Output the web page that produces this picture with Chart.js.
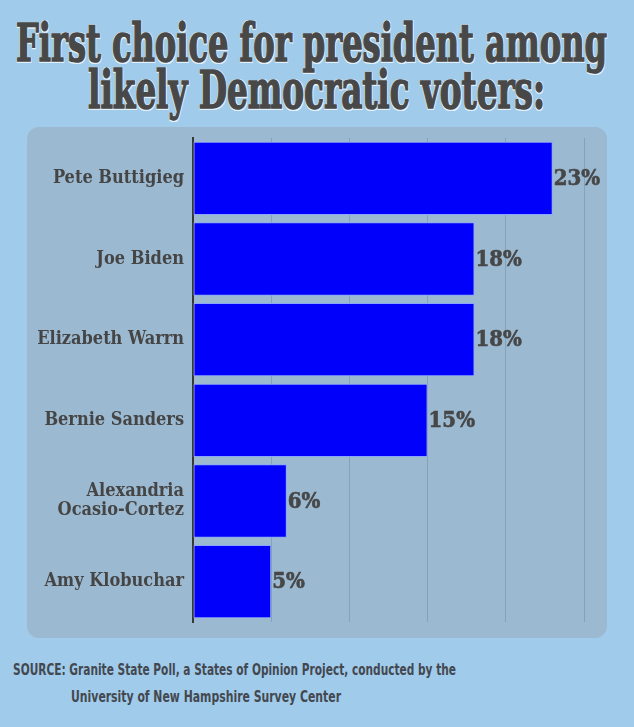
<!DOCTYPE html>
<html>
<head>
<meta charset="utf-8">
<script src="https://cdn.jsdelivr.net/npm/chart.js@4.4.1/dist/chart.umd.min.js"></script>
<style>
    body { margin: 0; width: 634px; height: 727px; background: #a1cbea; position: relative; overflow: hidden; }
    .title { position: absolute; left: 0; white-space: nowrap; font-family: "DejaVu Serif", serif; font-stretch: condensed; font-weight: bold; color: #484848; font-size: 52px; line-height: 1; transform-origin: 0 0;
        -webkit-text-stroke: 1.5px #484848;
        text-shadow: 1.5px 1.5px 0 #e4f1fb, -1px -1px 0 #e4f1fb, 1.5px -1px 0 #e4f1fb, -1px 1.5px 0 #e4f1fb; }
    .panel { position: absolute; left: 27px; top: 127px; width: 580px; height: 511px; background: #9bb9d1; border-radius: 12px; }
    .source { position: absolute; white-space: nowrap; font-family: "DejaVu Sans", sans-serif; font-stretch: condensed; font-weight: bold; color: #434850; font-size: 15px; line-height: 1; transform-origin: 0 0; }
</style>
</head>
<body>
<div class="title" id="t1" data-x="16" data-w="591">First choice for president among</div>
<div class="title" id="t2" data-x="88" data-w="457">likely Democratic voters:</div>
<div class="panel"><canvas id="pollChart" width="580" height="511"></canvas></div>
<div class="source" id="s1" data-x="13" data-w="443">SOURCE: Granite State Poll, a States of Opinion Project, conducted by the</div>
<div class="source" id="s2" data-x="71" data-w="270">University of New Hampshire Survey Center</div>
<script>
    const candidates = ['Pete Buttigieg', 'Joe Biden', 'Elizabeth Warrn', 'Bernie Sanders', ['Alexandria', 'Ocasio-Cortez'], 'Amy Klobuchar'];
    const support = [23, 18, 18, 15, 6, 5];
    const gridTicks = [0, 5, 10, 15, 20, 25];

    // squeeze the html text lines to the widths of the original
    function fitLine(id, top) {
        const el = document.getElementById(id);
        const natural = el.getBoundingClientRect().width;
        const sx = parseFloat(el.dataset.w) / natural;
        el.style.left = el.dataset.x + 'px';
        el.style.top = top + 'px';
        el.style.transform = 'scaleX(' + sx + ')';
    }
    fitLine('t1', 17);
    fitLine('t2', 64);
    fitLine('s1', 663);
    fitLine('s2', 690);

    const valueLabels = {
        id: 'valueLabels',
        afterDatasetsDraw(chart) {
            const ctx = chart.ctx;
            const meta = chart.getDatasetMeta(0);
            ctx.save();
            ctx.font = 'bold 22px "DejaVu Serif Condensed", "DejaVu Serif", serif';
            ctx.fillStyle = '#474747';
            ctx.strokeStyle = '#474747';
            ctx.lineWidth = 0.6;
            ctx.textBaseline = 'middle';
            meta.data.forEach(function(bar, i) {
                ctx.fillText(support[i] + '%', bar.x + 1, bar.y + 1);
                ctx.strokeText(support[i] + '%', bar.x + 1, bar.y + 1);
            });
            ctx.restore();
        }
    };

    const ctx = document.getElementById('pollChart').getContext('2d');
    const pollChart = new Chart(ctx, {
        type: 'bar',
        data: {
            labels: candidates,
            datasets: [{
                data: support,
                backgroundColor: '#0000fb',
                borderColor: '#8aa6ff',
                borderWidth: 1,
                borderSkipped: false,
                barPercentage: 0.91,
                categoryPercentage: 1
            }]
        },
        options: {
            indexAxis: 'y',
            responsive: false,
            animation: false,
            layout: { padding: { left: 0, right: 23, top: 11, bottom: 16 } },
            plugins: {
                legend: { display: false },
                tooltip: { enabled: false }
            },
            scales: {
                x: {
                    min: 0,
                    max: 25,
                    afterBuildTicks: function(scale) {
                        scale.ticks = gridTicks.map(v => ({ value: v }));
                    },
                    afterFit: function(scale) { scale.height = 0; },
                    ticks: { display: false },
                    border: { display: false },
                    grid: { color: '#86a2b9', lineWidth: 1, drawTicks: false }
                },
                y: {
                    afterFit: function(scale) { scale.width = 166; },
                    grid: { display: false },
                    border: { display: true, color: '#383838', width: 2 },
                    ticks: {
                        color: '#454545',
                        padding: 1,
                        font: { family: '"DejaVu Serif Condensed", "DejaVu Serif", serif', weight: 'bold', size: 18, lineHeight: 1.05 }
                    }
                }
            }
        },
        plugins: [valueLabels]
    });
</script>
</body>
</html>
